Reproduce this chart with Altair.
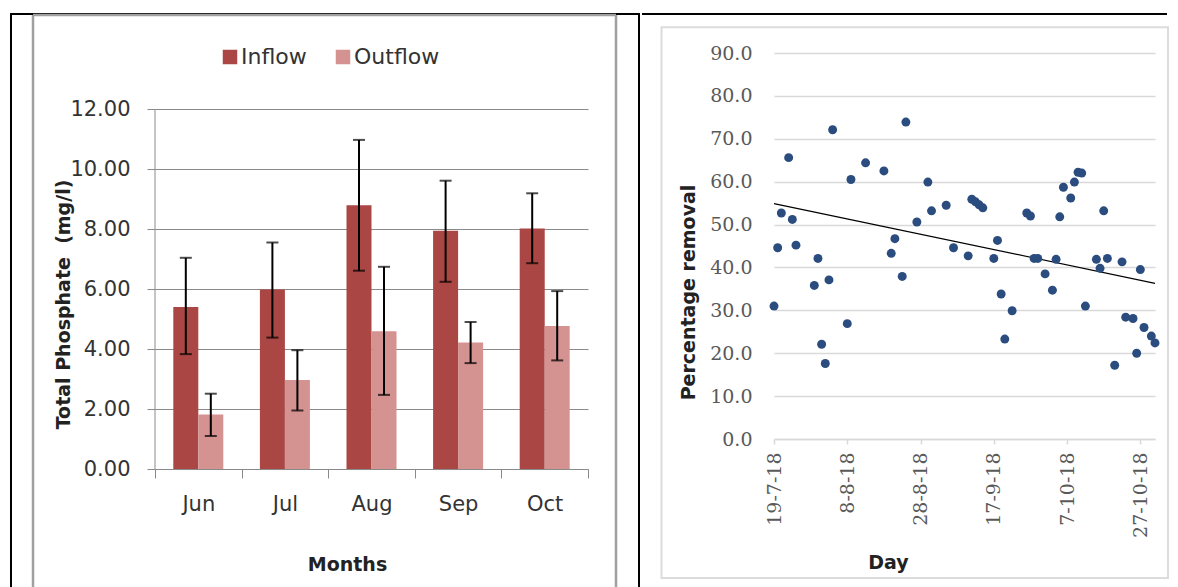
import altair as alt
import pandas as pd

SANS = "DejaVu Sans"
SERIF = "DejaVu Serif"

# ---------------- left chart data ----------------
months = ["Jun", "Jul", "Aug", "Sep", "Oct"]
series_names = ["Inflow", "Outflow"]
inflow = [5.40, 5.98, 8.79, 7.94, 8.02]
inflow_lo = [3.83, 4.38, 6.61, 6.24, 6.86]
inflow_hi = [7.04, 7.55, 10.97, 9.61, 9.19]
outflow = [1.82, 2.97, 4.59, 4.22, 4.77]
outflow_lo = [1.10, 1.95, 2.47, 3.53, 3.62]
outflow_hi = [2.51, 3.96, 6.74, 4.90, 5.93]
y_ticks_left = [0, 2, 4, 6, 8, 10, 12]

# ---------------- right chart data ----------------
dates = [
    "2018-07-19", "2018-07-20", "2018-07-21", "2018-07-23", "2018-07-24", "2018-07-25",
    "2018-07-30", "2018-07-31", "2018-08-01", "2018-08-02", "2018-08-03", "2018-08-04",
    "2018-08-08", "2018-08-09", "2018-08-13", "2018-08-18", "2018-08-20", "2018-08-21",
    "2018-08-23", "2018-08-24", "2018-08-27", "2018-08-30", "2018-08-31", "2018-09-04",
    "2018-09-06", "2018-09-10", "2018-09-11", "2018-09-12", "2018-09-13", "2018-09-14",
    "2018-09-17", "2018-09-18", "2018-09-19", "2018-09-20", "2018-09-22", "2018-09-26",
    "2018-09-27", "2018-09-28", "2018-09-29", "2018-10-01", "2018-10-03", "2018-10-04",
    "2018-10-05", "2018-10-06", "2018-10-08", "2018-10-09", "2018-10-10", "2018-10-11",
    "2018-10-12", "2018-10-15", "2018-10-16", "2018-10-17", "2018-10-18", "2018-10-20",
    "2018-10-22", "2018-10-23", "2018-10-25", "2018-10-26", "2018-10-27", "2018-10-28",
    "2018-10-30", "2018-10-31",
]
removal = [
    31.0, 44.6, 52.7, 65.6, 51.2, 45.2,
    35.8, 42.1, 22.1, 17.6, 37.1, 72.1,
    26.9, 60.5, 64.4, 62.5, 43.3, 46.7,
    37.9, 73.9, 50.6, 59.9, 53.2, 54.5,
    44.6, 42.7, 55.9, 55.3, 54.6, 53.9,
    42.1, 46.3, 33.8, 23.3, 29.9, 52.7,
    52.0, 42.1, 42.1, 38.5, 34.7, 41.9,
    51.8, 58.7, 56.2, 59.9, 62.2, 62.0,
    31.0, 41.9, 39.8, 53.2, 42.1, 17.2,
    41.3, 28.4, 28.1, 20.0, 39.5, 26.0,
    24.0, 22.4,
]
# linear trend line as drawn in the picture (end points)
trend_dates = ["2018-07-19", "2018-10-31"]
trend_values = [54.9, 36.3]
x_tick_dates = [(2018, 7, 19), (2018, 8, 8), (2018, 8, 28), (2018, 9, 17), (2018, 10, 7), (2018, 10, 27)]
x_domain_dates = [(2018, 7, 19), (2018, 10, 31)]
y_ticks_right = [0, 10, 20, 30, 40, 50, 60, 70, 80, 90]

# ---------------- tables ----------------
rows = []
for i, m in enumerate(months):
    rows.append({"month": m, "series": "Inflow", "value": inflow[i], "lo": inflow_lo[i], "hi": inflow_hi[i]})
    rows.append({"month": m, "series": "Outflow", "value": outflow[i], "lo": outflow_lo[i], "hi": outflow_hi[i]})
df_l = pd.DataFrame(rows)
df_r = pd.DataFrame({"date": dates, "removal": removal})
df_t = pd.DataFrame({"date": trend_dates, "removal": trend_values})
dummy = pd.DataFrame({"k": [0]})

# left plot area spans from the top of the right plot (legend lives in it);
# 30 px per unit, 12 units = 360 px of bars, top 56 px hold the legend
LW, LH = 433, 416
LTOP = 416 / 30.0
RW, RH = 381, 386
GRID_L = "#8A8A8A"
GRID_R = "#D9D9D9"
BOTTOM_L = 540  # frame lines run off the bottom of the page


def dt(t):
    return alt.DateTime(year=t[0], month=t[1], date=t[2], utc=True)


# ---------------- left chart ----------------
x_l = alt.X(
    "month:N", sort=months,
    scale=alt.Scale(paddingInner=0, paddingOuter=0),
    axis=alt.Axis(
        title="Months", labelFont=SANS, labelFontSize=21, labelColor="#333333",
        labelAngle=0, labelPadding=15, tickBand="extent", tickSize=9, tickColor=GRID_L,
        domainColor=GRID_L, grid=False,
        titleFont=SANS, titleFontSize=19, titleFontWeight="bold", titleColor="#222222",
        titleX=192, titleY=101, titleBaseline="alphabetic", titleAlign="center",
    ),
)
xo_l = alt.XOffset("series:N", sort=series_names, scale=alt.Scale(paddingInner=0, paddingOuter=0.732))

axis_l = alt.Axis(
    values=y_ticks_left, format=".2f", title="Total Phosphate \u00a0(mg/l)",
    labelFont=SANS, labelFontSize=21, labelColor="#333333", labelPadding=17,
    tickSize=8, tickColor=GRID_L, domain=False, gridColor=GRID_L, gridWidth=1,
    titleFont=SANS, titleFontSize=19, titleFontWeight="bold", titleColor="#222222",
    titleX=-86, titleY=251, titleBaseline="alphabetic", titleAlign="center",
)
scale_l = alt.Scale(domain=[0, LTOP], nice=False)


def y_l(field):
    return alt.Y(f"{field}:Q", scale=scale_l, axis=axis_l)


bars = alt.Chart(df_l).mark_bar().encode(
    x=x_l, xOffset=xo_l, y=y_l("value"),
    color=alt.Color(
        "series:N", sort=series_names,
        scale=alt.Scale(domain=series_names, range=["#AA4643", "#D49290"]),
        legend=alt.Legend(
            orient="none", legendX=64, legendY=-7, direction="horizontal", title=None,
            symbolType="square", symbolSize=210, symbolStrokeWidth=0, symbolOpacity=1,
            labelFont=SANS, labelFontSize=22, labelColor="#333333", labelOffset=0,
            columnPadding=25, padding=0,
        ),
    ),
)
err = alt.Chart(df_l).mark_rule(color="black", strokeWidth=2).encode(
    x=x_l, xOffset=xo_l, y=y_l("lo"), y2="hi:Q"
)
cap_hi = alt.Chart(df_l).mark_tick(color="black", thickness=2, size=12).encode(
    x=x_l, xOffset=xo_l, y=y_l("hi")
)
cap_lo = alt.Chart(df_l).mark_tick(color="black", thickness=2, size=12).encode(
    x=x_l, xOffset=xo_l, y=y_l("lo")
)
# vertical axis line, only from 0 to 12
y_line = alt.Chart(dummy).mark_rule(color=GRID_L, strokeWidth=1).encode(
    x=alt.value(0),
    y=alt.YDatum(0, scale=scale_l, axis=axis_l),
    y2=alt.Y2Datum(12),
)

# decorative frame (table lines and chart-area border)
fr = alt.Chart(dummy)
f_top = fr.mark_rule(color="black", strokeWidth=2).encode(x=alt.value(-145), x2=alt.value(485), y=alt.value(-39))
f_left = fr.mark_rule(color="black", strokeWidth=2).encode(x=alt.value(-144), y=alt.value(-40), y2=alt.value(BOTTOM_L))
f_mid = fr.mark_rule(color="black", strokeWidth=2).encode(x=alt.value(484), y=alt.value(-40), y2=alt.value(BOTTOM_L))
g_left = fr.mark_rule(color="#A0A0A0", strokeWidth=2.5).encode(x=alt.value(-122), y=alt.value(-38), y2=alt.value(BOTTOM_L))
g_top = fr.mark_rule(color="#A0A0A0", strokeWidth=2.5).encode(x=alt.value(-122), x2=alt.value(461), y=alt.value(-38))
g_right = fr.mark_rule(color="#A0A0A0", strokeWidth=2.5).encode(x=alt.value(461), y=alt.value(-38), y2=alt.value(BOTTOM_L))

left = alt.layer(
    f_top, f_left, f_mid, g_left, g_top, g_right, bars, err, cap_hi, cap_lo, y_line
).properties(width=LW, height=LH)

# ---------------- right chart ----------------
x_r = alt.X(
    "date:T",
    scale=alt.Scale(type="utc", domain=[dt(d) for d in x_domain_dates]),
    axis=alt.Axis(
        values=[dt(d) for d in x_tick_dates], format="%-d-%-m-%y",
        labelAngle=270, labelAlign="right", labelBaseline="middle",
        labelFont=SERIF, labelFontSize=19, labelColor="#595959", labelPadding=8,
        tickSize=5, tickColor=GRID_R, tickWidth=1.5, domainColor=GRID_R, domainWidth=1.5, grid=False,
        title="Day", titleFont=SANS, titleFontSize=19, titleFontWeight="bold", titleColor="#222222",
        titleX=114, titleY=129, titleBaseline="alphabetic", titleAlign="center",
    ),
)
y_r = alt.Y(
    "removal:Q",
    scale=alt.Scale(domain=[0, 90]),
    axis=alt.Axis(
        values=y_ticks_right, format=".1f",
        labelFont=SERIF, labelFontSize=19, labelColor="#595959", labelPadding=22,
        ticks=False, tickSize=0, domain=False, grid=True, gridColor=GRID_R, gridWidth=1.5,
        title="Percentage removal", titleFont=SANS, titleFontSize=19, titleFontWeight="bold",
        titleColor="#222222", titleX=-80, titleY=239, titleBaseline="alphabetic", titleAlign="center",
    ),
)
pts = alt.Chart(df_r).mark_circle(size=80, color="#2B4C7E", opacity=1).encode(x=x_r, y=y_r)
trend = alt.Chart(df_t).mark_line(color="black", strokeWidth=1.2).encode(x=x_r, y=y_r)

fr2 = alt.Chart(dummy)
r_top = fr2.mark_rule(color="black", strokeWidth=2).encode(x=alt.value(-132), x2=alt.value(393), y=alt.value(-39))
r_box = fr2.mark_rect(fillOpacity=0, stroke="#DCDCDC", strokeWidth=2).encode(
    x=alt.value(-112.5), x2=alt.value(394), y=alt.value(-25.7), y2=alt.value(525)
)

right = alt.layer(r_top, r_box, trend, pts).properties(width=RW, height=RH)

chart = (
    alt.hconcat(left, right, spacing=0)
    .resolve_scale(color="independent")
    .properties(padding={"left": 1, "top": 4, "right": 0, "bottom": 0})
    .configure_view(strokeWidth=0)
)

chart.save("out.html", embed_options={"renderer": "svg", "actions": False})
